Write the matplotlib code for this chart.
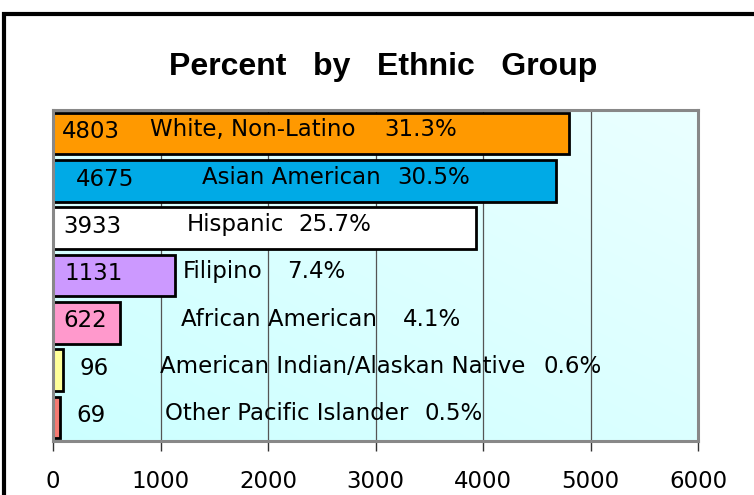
import matplotlib
matplotlib.use("Agg")
import matplotlib.pyplot as plt
import numpy as np
from matplotlib.patches import Rectangle

groups = ["White, Non-Latino", "Asian American", "Hispanic", "Filipino",
          "African American", "American Indian/Alaskan Native", "Other Pacific Islander"]
counts = [4803, 4675, 3933, 1131, 622, 96, 69]
percents = ["31.3%", "30.5%", "25.7%", "7.4%", "4.1%", "0.6%", "0.5%"]
colors = ["#FF9900", "#00AAE6", "#FFFFFF", "#CC99FF", "#FF99CC", "#FFFF99", "#F57A72"]
xticks = [0, 1000, 2000, 3000, 4000, 5000, 6000]

# annotation x positions (data units)
num_x = [85, 215, 95, 105, 95, 245, 215]
name_x = [900, 1390, 1240, 1210, 1190, 1000, 1040]
pct_x = [3080, 3200, 2280, 2176, 3250, 4560, 3460]

W, H = 754, 495
fig = plt.figure(figsize=(W / 100, H / 100), dpi=100)
ax = fig.add_axes([53 / W, 1 - 441 / H, (698 - 53) / W, (441 - 110) / H])

n = len(groups)
ypos = np.arange(n)[::-1]

# gradient background
grad = np.linspace(0, 1, 256)
gx, gy = np.meshgrid(grad, grad)
g = (gx + (1 - gy)) / 2
c0 = np.array([0.80, 1.0, 1.0])
c1 = np.array([0.92, 1.0, 1.0])
img = c0[None, None, :] * (1 - g[..., None]) + c1[None, None, :] * g[..., None]
ax.imshow(img, extent=[0, 6000, -0.5, n - 0.5], aspect="auto", zorder=0, origin="upper")

for x in xticks[1:-1]:
    ax.axvline(x, color="#555555", lw=0.9, zorder=1)

ax.barh(ypos, counts, height=0.88, color=colors, edgecolor="black", linewidth=2.0, zorder=2)

fs = 16.5
for i in range(n):
    y = ypos[i] + 0.04
    ax.text(num_x[i], y, str(counts[i]), ha="left", va="center", fontsize=fs,
            family="DejaVu Sans", zorder=3)
    ax.text(name_x[i], y + 0.04, groups[i], ha="left", va="center", fontsize=fs,
            family="DejaVu Sans", zorder=3)
    ax.text(pct_x[i], y + 0.04, percents[i], ha="left", va="center", fontsize=fs,
            family="DejaVu Sans", zorder=3)

ax.set_xlim(0, 6000)
ax.set_ylim(-0.5, n - 0.5)
ax.set_xticks(xticks)
ax.set_xticklabels([str(t) for t in xticks], fontsize=16.5, family="DejaVu Sans")
ax.tick_params(axis="x", direction="out", length=7, width=1, color="#333333", pad=14)
ax.set_yticks([])
for s in ax.spines.values():
    s.set_color("#888888")
    s.set_linewidth(2.2)
    s.set_zorder(4)

fig.text(383 / W, 1 - 75 / H, "Percent   by   Ethnic   Group", ha="center", va="baseline",
         fontsize=23, fontweight="bold", family="Liberation Sans")

fig.patches.append(Rectangle((3.5 / W, -0.1), 1.2, 1 - 13.5 / H + 0.1,
                             transform=fig.transFigure, fill=False, edgecolor="black",
                             linewidth=3))

fig.savefig("out.png", dpi=100)
